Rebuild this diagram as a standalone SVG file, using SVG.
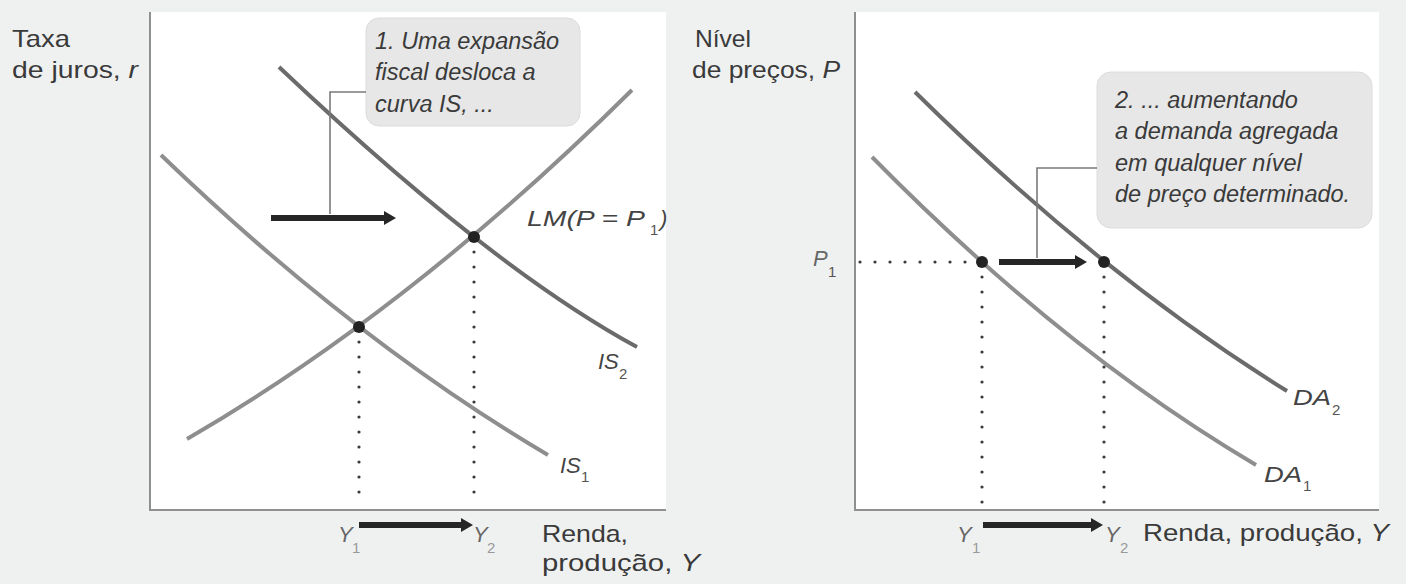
<svg xmlns="http://www.w3.org/2000/svg" width="1406" height="584" viewBox="0 0 1406 584">
<style>
.ax{stroke:#8f8f8f;stroke-width:2;fill:none}
.c1{stroke:#6b6b6b;stroke-width:4;fill:none;stroke-linecap:butt}
.c2{stroke:#8e8e8e;stroke-width:4;fill:none;stroke-linecap:butt}
.dot{stroke:#3a3a3a;stroke-width:3.2;stroke-dasharray:0 15;stroke-linecap:round;fill:none}
.arr{stroke:#262626;stroke-width:6;fill:none}
.lead{stroke:#7a7a7a;stroke-width:1.6;fill:none}
.box{fill:#e7e7e7;stroke:#dcdcdc;stroke-width:1}
.lab{font-family:"Liberation Sans",Arial,sans-serif;font-size:24px;fill:#3a3a3a}
.it{font-family:"Liberation Sans",Arial,sans-serif;font-style:italic;font-size:23.5px;fill:#3a3a3a}
.mt{font-family:"Liberation Sans",Arial,sans-serif;font-style:italic;font-size:22px;fill:#444}
.sub{font-family:"Liberation Sans",Arial,sans-serif;font-size:15px;fill:#555}
.y{font-family:"Liberation Sans",Arial,sans-serif;font-style:italic;font-size:22px;fill:#666}
.ys{font-family:"Liberation Sans",Arial,sans-serif;font-size:15px;fill:#999}
</style>
<defs>
<marker id="ah" markerUnits="userSpaceOnUse" markerWidth="13" markerHeight="14" refX="0" refY="7" orient="auto">
<path d="M0,0 L12,7 L0,14 z" fill="#262626"/>
</marker>
</defs>
<rect x="0" y="0" width="1406" height="584" fill="#eff1f1"/>

<g id="panel-left">
<rect x="150" y="12" width="516" height="498" fill="#ffffff"/>
<path class="ax" d="M150,12 V510 H666"/>
<text class="lab" x="12" y="47" textLength="58" lengthAdjust="spacingAndGlyphs">Taxa</text>
<text class="lab" x="12" y="78" textLength="126" lengthAdjust="spacingAndGlyphs">de juros, <tspan font-style="italic">r</tspan></text>
<text class="lab" x="542" y="542" textLength="86" lengthAdjust="spacingAndGlyphs">Renda,</text>
<text class="lab" x="542" y="571" textLength="158" lengthAdjust="spacingAndGlyphs">produção, <tspan font-style="italic">Y</tspan></text>
</g>

<g id="curve-LM">
<path class="c2" d="M187,439 Q410.5,309.5 632,90"/>
<text class="mt" x="527" y="226" textLength="118" lengthAdjust="spacingAndGlyphs">LM(P = P</text>
<text class="sub" x="650" y="235">1</text>
<text class="mt" x="660" y="226">)</text>
</g>

<g id="curve-IS1">
<path class="c2" d="M161,155 Q354.5,341 548,455"/>
<text class="mt" x="560" y="473">IS</text>
<text class="sub" x="581" y="482">1</text>
</g>

<g id="curve-IS2">
<path class="c1" d="M279,67 Q490,267 637,347"/>
<text class="mt" x="598" y="369">IS</text>
<text class="sub" x="619" y="379">2</text>
</g>

<g id="callout-1">
<rect class="box" x="366" y="18" width="214" height="108" rx="13"/>
<text class="it" x="375" y="49">1. Uma expansão</text>
<text class="it" x="375" y="80">fiscal desloca a</text>
<text class="it" x="375" y="112">curva IS, ...</text>
</g>

<g id="equilibria-left">
<circle cx="474" cy="237" r="6" fill="#222"/>
<circle cx="359" cy="327" r="6" fill="#222"/>
</g>

<g id="y-labels-left">
<text class="y" x="338" y="542">Y</text>
<text class="ys" x="352" y="553">1</text>
<text class="y" x="473" y="542">Y</text>
<text class="ys" x="487" y="553">2</text>
</g>

<g id="panel-right">
<rect x="855" y="12" width="524" height="498" fill="#ffffff"/>
<path class="ax" d="M855,12 V510 H1379"/>
<text class="lab" x="695" y="47" textLength="56" lengthAdjust="spacingAndGlyphs">Nível</text>
<text class="lab" x="692" y="78" textLength="148" lengthAdjust="spacingAndGlyphs">de preços, <tspan font-style="italic">P</tspan></text>
<text class="lab" x="1143" y="541" textLength="246" lengthAdjust="spacingAndGlyphs">Renda, produção, <tspan font-style="italic">Y</tspan></text>
<text class="y" x="813" y="266">P</text>
<text class="sub" x="828" y="277">1</text>
</g>

<g id="curve-DA1">
<path class="c2" d="M872,157 Q1064,352 1256,465"/>
<text class="mt" x="1264" y="482" textLength="38" lengthAdjust="spacingAndGlyphs">DA</text>
<text class="sub" x="1303" y="491">1</text>
</g>

<g id="curve-DA2">
<path class="c1" d="M915,92 Q1101,275.5 1287,391"/>
<text class="mt" x="1293" y="405" textLength="38" lengthAdjust="spacingAndGlyphs">DA</text>
<text class="sub" x="1332" y="415">2</text>
</g>

<g id="callout-2">
<rect class="box" x="1097" y="72" width="275" height="156" rx="14"/>
<text class="it" x="1115" y="108">2. ... aumentando</text>
<text class="it" x="1115" y="139">a demanda agregada</text>
<text class="it" x="1115" y="171">em qualquer nível</text>
<text class="it" x="1115" y="202">de preço determinado.</text>
</g>

<g id="equilibria-right">
<circle cx="982" cy="262" r="6" fill="#222"/>
<circle cx="1104" cy="262" r="6" fill="#222"/>
</g>

<g id="y-labels-right">
<text class="y" x="957" y="542">Y</text>
<text class="ys" x="972" y="553">1</text>
<text class="y" x="1105" y="542">Y</text>
<text class="ys" x="1120" y="553">2</text>
</g>

<g id="connectors">
<path class="dot" d="M359,342 V503"/>
<path class="dot" d="M474,252 V503"/>
<path class="dot" d="M860,262 H970"/>
<path class="dot" d="M982,277 V503"/>
<path class="dot" d="M1104,277 V503"/>
<path class="lead" d="M366,92 H330 V214"/>
<path class="lead" d="M1097,168 H1037 V258"/>
<line class="arr" x1="271" y1="218" x2="384" y2="218" marker-end="url(#ah)"/>
<line class="arr" x1="999" y1="262" x2="1075" y2="262" marker-end="url(#ah)"/>
<line class="arr" x1="359" y1="525" x2="461" y2="525" marker-end="url(#ah)"/>
<line class="arr" x1="983" y1="525" x2="1091" y2="525" marker-end="url(#ah)"/>
</g>
</svg>
